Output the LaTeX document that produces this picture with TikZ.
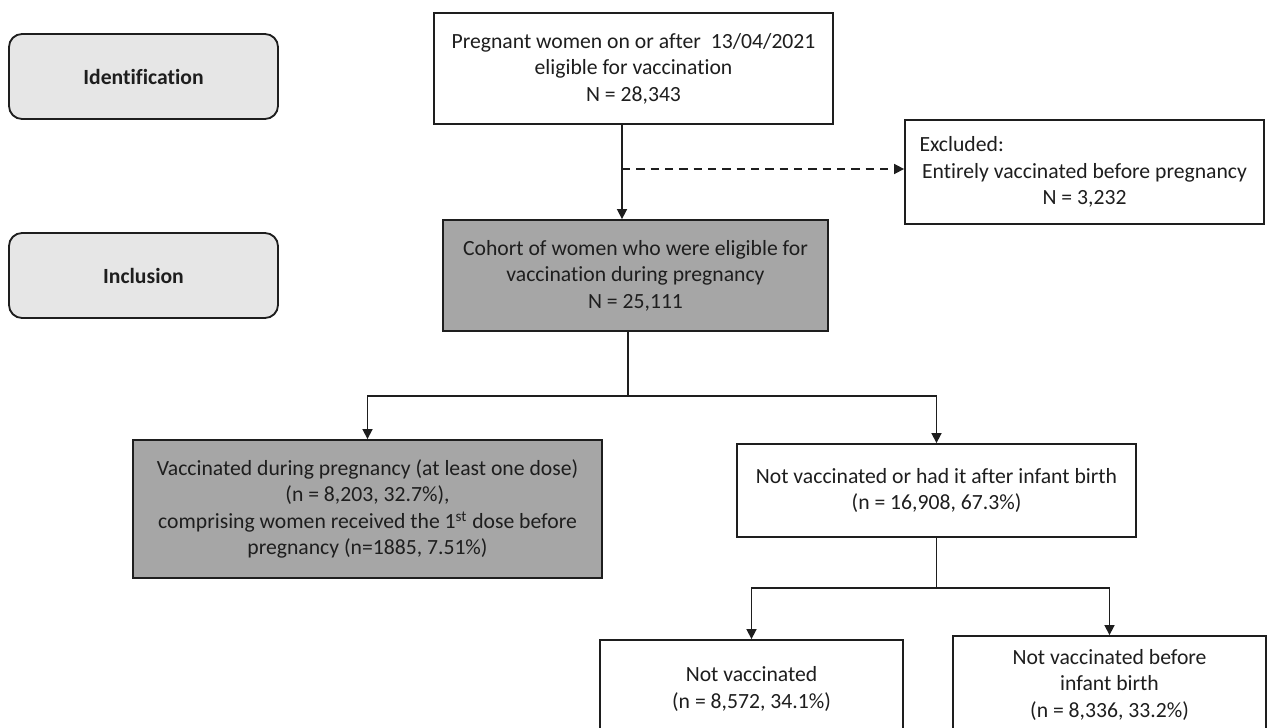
\documentclass[tikz,border=0pt]{standalone}
\usepackage{fontspec}
\setmainfont{Carlito}[Ligatures={NoCommon}]
\usetikzlibrary{arrows.meta}
\definecolor{lightbox}{HTML}{E6E6E6}
\definecolor{darkbox}{HTML}{A6A6A6}
\definecolor{ink}{HTML}{1E1E1E}
\tikzset{
  box/.style={draw=ink, line width=1.1pt, rectangle, inner sep=0pt, align=center,
    text=ink, fill=white, font=\fontsize{13}{15.9}\selectfont},
  stage/.style={box, fill=lightbox, rounded corners=7.8pt,
    font=\fontsize{13}{15.9}\selectfont\bfseries},
  greybox/.style={box, fill=darkbox},
  arr/.style={draw=ink, line width=1pt, -{Triangle[length=6pt,width=6pt]}},
  link/.style={draw=ink, line width=1pt},
}
\begin{document}
\begin{tikzpicture}[x=0.6pt,y=-0.6pt]
\useasboundingbox (0,0) rectangle (1267,728);
\fill[white] (0,0) rectangle (1267,728);
\clip (0,0) rectangle (1267,728);

% stage labels
\node[stage, minimum width=161.4pt, minimum height=51pt] (ident) at (143.5,76.5) {Identification};
\node[stage, minimum width=161.4pt, minimum height=51pt] (incl) at (143.5,275.5) {Inclusion};

% flow boxes
\node[box, minimum width=239.4pt, minimum height=66.6pt] (top) at (633.5,68.5)
  {Pregnant women on or after \ 13/04/2021\\ eligible for vaccination\\ N = 28,343};
\node[greybox, minimum width=231pt, minimum height=66.6pt] (cohort) at (635.5,275.5)
  {Cohort of women who were eligible for\\ vaccination during pregnancy\\ N = 25,111};
\node[box, minimum width=215.4pt, minimum height=62.4pt] (excl) at (1084.5,172)
  {\makebox[198pt][l]{Excluded:}\\ Entirely vaccinated before pregnancy\\ N = 3,232};
\node[greybox, minimum width=281.4pt, minimum height=82.8pt] (vacc) at (367.5,509)
  {Vaccinated during pregnancy (at least one dose)\\ (n = 8,203, 32.7\%),\\
   comprising women received the 1\textsuperscript{st} dose before\\ pregnancy (n=1885, 7.51\%)};
\node[box, minimum width=239.4pt, minimum height=55.8pt] (nvoh) at (936.5,490.5)
  {Not vaccinated or had it after infant birth\\ (n = 16,908, 67.3\%)};
\node[box, minimum width=181.8pt, minimum height=58.8pt] (nv) at (751.5,689)
  {Not vaccinated\\ (n = 8,572, 34.1\%)};
\node[box, minimum width=187.8pt, minimum height=58.2pt] (nvb) at (1109.5,684.5)
  {Not vaccinated before\\ infant birth\\ (n = 8,336, 33.2\%)};

% junctions
\coordinate (j0) at (622,169);
\coordinate (j1) at (628,396);
\path (nvoh.south) ++(0,50) coordinate (j2);

% connectors
\draw[arr] (top.south -| j0) -- (cohort.north -| j0);
\draw[arr, dashed, dash pattern=on 5pt off 3.6pt] (j0) -- (excl.west |- j0);
\draw[link] (cohort.south -| j1) -- (j1);
\draw[arr] (j1) -| (vacc.north);
\draw[arr] (j1) -| (nvoh.north);
\draw[link] (nvoh.south) -- (j2);
\draw[arr] (j2) -| (nv.north);
\draw[arr] (j2) -| (nvb.north);
\end{tikzpicture}
\end{document}
